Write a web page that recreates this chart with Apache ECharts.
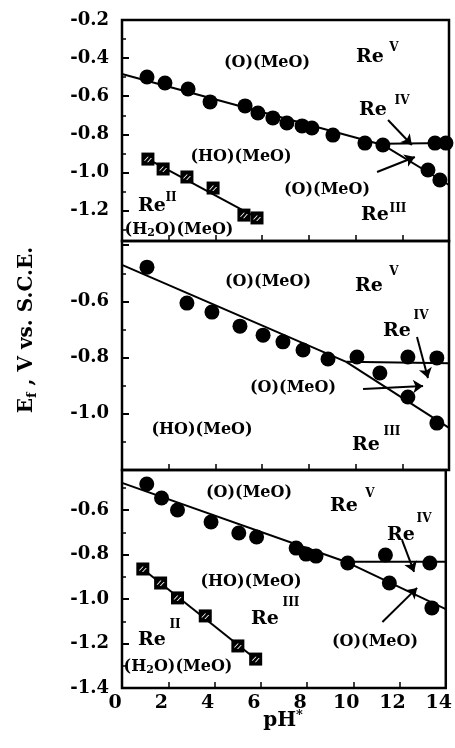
<!DOCTYPE html>
<html><head><meta charset="utf-8">
<script src="https://cdn.jsdelivr.net/npm/echarts@6/dist/echarts.min.js"></script>
<style>html,body{margin:0;padding:0;background:#fff}#c{width:455px;height:748px}</style>
</head><body><div id="c"></div>
<script>
// ---------- data (pH*, E_f / V vs. S.C.E.) ----------
const xTickLabels = [0, 2, 4, 6, 8, 10, 12, 14];
const yLabelsTop = [-0.2, -0.4, -0.6, -0.8, -1.0, -1.2];
const yLabelsMid = [-0.6, -0.8, -1.0];
const yLabelsBot = [-0.6, -0.8, -1.0, -1.2, -1.4];

// top panel
const topCircles = [[1.07,-0.499],[1.84,-0.531],[2.83,-0.562],[3.77,-0.630],[5.27,-0.651],[5.82,-0.688],[6.46,-0.714],[7.06,-0.741],[7.71,-0.756],[8.13,-0.767],[9.03,-0.804],[10.40,-0.846],[11.17,-0.856],[13.40,-0.846],[13.87,-0.846],[13.10,-0.987],[13.61,-1.040]];
const topSquares = [[1.11,-0.930],[1.76,-0.982],[2.78,-1.024],[3.90,-1.082],[5.22,-1.224],[5.78,-1.239]];
const topLineMain = [[0,-0.483],[11.17,-0.856]];
const topLineUpper = [[11.17,-0.850],[14,-0.846]];
const topLineLower = [[11.17,-0.856],[14,-1.066]];
const topLineSquares = [[1.11,-0.930],[5.78,-1.239]];
const topArrows = [[[11.39,-0.725],[12.41,-0.856]],[[10.92,-0.998],[12.54,-0.919]]];

// middle panel
const midCircles = [[1.07,-0.478],[2.78,-0.606],[3.85,-0.638],[5.05,-0.688],[6.04,-0.720],[6.89,-0.744],[7.75,-0.773],[8.82,-0.805],[10.06,-0.798],[11.04,-0.855],[12.24,-0.798],[13.48,-0.801],[12.24,-0.940],[13.48,-1.033]];
const midLineMain = [[0,-0.470],[9.6,-0.815]];
const midLineUpper = [[9.6,-0.815],[14,-0.820]];
const midLineLower = [[9.6,-0.815],[14,-1.050]];
const midArrows = [[[12.63,-0.727],[13.10,-0.873]],[[10.32,-0.912],[12.89,-0.901]]];

// bottom panel
const botCircles = [[1.07,-0.483],[1.71,-0.546],[2.40,-0.600],[3.85,-0.654],[5.05,-0.703],[5.82,-0.721],[7.53,-0.771],[7.96,-0.798],[8.39,-0.807],[9.76,-0.838],[11.39,-0.802],[13.31,-0.838],[11.56,-0.928],[13.40,-1.040]];
const botSquares = [[0.90,-0.865],[1.67,-0.928],[2.40,-0.995],[3.60,-1.076],[5.01,-1.211],[5.78,-1.270]];
const botLineMain = [[0,-0.478],[9.76,-0.836]];
const botLineUpper = [[9.76,-0.832],[14,-0.832]];
const botLineLower = [[9.76,-0.836],[14,-1.045]];
const botLineSquares = [[0.90,-0.865],[5.78,-1.270]];
const botArrows = [[[12.11,-0.735],[12.63,-0.878]],[[11.26,-1.103],[12.76,-0.950]]];

// ---------- styling ----------
const SERIF = '"DejaVu Serif", "Liberation Serif", serif';
// two white slashes drawn over a black square marker
const slashSymbol = 'path://M0 4L4 0L5.2 0L1.2 4Z M3.4 5.4L7.4 1.4L8.6 1.4L4.6 5.4Z';
const grids = [
  {left:122, width:327, top:20, height:221},
  {left:122, width:327, top:241, height:229},
  {left:122, width:327, top:470, height:218}
];
const yRanges = [[-1.36,-0.2,6],[-1.2,-0.385,4],[-1.4,-0.42,5]];
const yLabelSets = [yLabelsTop, yLabelsMid, yLabelsBot];

function lineSeries(i, data){
  return {type:'line', xAxisIndex:i, yAxisIndex:i, data:data, symbol:'none', silent:true, z:2,
    lineStyle:{color:'#000', width:2, opacity:1}};
}
function circleSeries(i, data){
  return {type:'scatter', xAxisIndex:i, yAxisIndex:i, data:data, symbol:'circle', symbolSize:15, silent:true, z:4,
    itemStyle:{color:'#000', opacity:1}};
}
function squareSeries(i, data){
  return [
    {type:'scatter', xAxisIndex:i, yAxisIndex:i, data:data, symbol:'rect', symbolSize:13, silent:true, z:5,
      itemStyle:{color:'#000', opacity:1}},
    {type:'scatter', xAxisIndex:i, yAxisIndex:i, data:data, symbol:slashSymbol, symbolSize:[8,5.5], symbolOffset:[0,0.3],
      silent:true, z:6, itemStyle:{color:'#fff', opacity:1}}
  ];
}
function arrowSeries(i, arrows){
  return {type:'scatter', xAxisIndex:i, yAxisIndex:i, data:[], silent:true, z:7,
    markLine:{silent:true, symbol:['none','arrow'], symbolSize:10, animation:false,
      label:{show:false}, emphasis:{disabled:true},
      lineStyle:{color:'#000', width:2, type:'solid', opacity:1},
      itemStyle:{color:'#000'},
      data: arrows.map(a => [{coord:a[0]},{coord:a[1]}])}};
}

const series = [
  lineSeries(0, topLineMain), lineSeries(0, topLineUpper), lineSeries(0, topLineLower), lineSeries(0, topLineSquares),
  circleSeries(0, topCircles), ...squareSeries(0, topSquares), arrowSeries(0, topArrows),
  lineSeries(1, midLineMain), lineSeries(1, midLineUpper), lineSeries(1, midLineLower),
  circleSeries(1, midCircles), arrowSeries(1, midArrows),
  lineSeries(2, botLineMain), lineSeries(2, botLineUpper), lineSeries(2, botLineLower), lineSeries(2, botLineSquares),
  circleSeries(2, botCircles), ...squareSeries(2, botSquares), arrowSeries(2, botArrows)
];

// ---------- annotation texts ----------
const annFont = 'bold 16px ' + SERIF;
const reFont = 'bold 19px ' + SERIF;
const supFont = 'bold 12px ' + SERIF;
const texts = [];
function t(x, y, text, font){
  texts.push({type:'text', x:x, y:y, z:100, silent:true,
    style:{text:text, font:font, fill:'#000', align:'center', verticalAlign:'middle'}});
}
function h2o(x, y){
  texts.push({type:'text', x:x, y:y, z:100, silent:true,
    style:{text:'{a|(H}{s|2}{a|O)(MeO)}', fill:'#000', align:'center', verticalAlign:'middle',
      rich:{a:{font:annFont, fill:'#000', lineHeight:18, verticalAlign:'middle'},
            s:{font:'bold 11px ' + SERIF, fill:'#000', lineHeight:18, verticalAlign:'bottom'}}}});
}
function re(x, y, sup, sx, sy){ t(x, y, 'Re', reFont); t(sx, sy, sup, supFont); }

// top
t(267, 63, '(O)(MeO)', annFont);
re(370, 57, 'V', 394, 48);
re(373, 110, 'IV', 402, 101);
t(241, 157, '(HO)(MeO)', annFont);
t(327, 190, '(O)(MeO)', annFont);
re(375, 215, 'III', 398, 209);
re(152, 206, 'II', 171, 198);
h2o(179, 230);
// middle
t(268, 282, '(O)(MeO)', annFont);
re(369, 286, 'V', 394, 272);
re(397, 331, 'IV', 421, 316);
t(293, 388, '(O)(MeO)', annFont);
t(202, 430, '(HO)(MeO)', annFont);
re(366, 445, 'III', 392, 432);
// bottom
t(249, 493, '(O)(MeO)', annFont);
re(344, 506, 'V', 370, 494);
re(401, 535, 'IV', 424, 519);
t(251, 582, '(HO)(MeO)', annFont);
re(265, 619, 'III', 291, 603);
re(152, 640, 'II', 175, 625);
h2o(178, 667);
t(375, 642, '(O)(MeO)', annFont);

// axis titles
texts.push({type:'text', x:27, y:330, rotation:Math.PI/2, z:100, silent:true,
  style:{text:'{a|E}{s|f}{a| , V vs. S.C.E.}', fill:'#000', align:'center', verticalAlign:'middle',
    rich:{a:{font:'bold 20px ' + SERIF, fill:'#000', lineHeight:24, verticalAlign:'middle'},
          s:{font:'bold 13px ' + SERIF, fill:'#000', lineHeight:24, verticalAlign:'bottom'}}}});
texts.push({type:'text', x:283, y:721, z:100, silent:true,
  style:{text:'{a|pH}{s|*}', fill:'#000', align:'center', verticalAlign:'middle',
    rich:{a:{font:'bold 20px ' + SERIF, fill:'#000', lineHeight:24, verticalAlign:'middle'},
          s:{font:'bold 13px ' + SERIF, fill:'#000', lineHeight:24, verticalAlign:'top'}}}});

// ---------- option ----------
const option = {
  animation:false,
  backgroundColor:'#fff',
  grid: grids.map(g => Object.assign({show:true, borderColor:'#000', borderWidth:2.5, backgroundColor:'transparent'}, g)),
  xAxis: [0,1,2].map(i => ({
    type:'value', gridIndex:i, min:0, max:14, interval:2,
    axisLine:{show:false},
    axisTick:{show:true, inside:true, length:6, lineStyle:{color:'#000', width:1.5}},
    splitLine:{show:false},
    axisLabel:{show: i===2, margin:6, color:'#000', fontFamily:SERIF, fontWeight:'bold', fontSize:19,
      padding:[0,14,0,0],
      formatter: v => xTickLabels.indexOf(v) >= 0 ? String(v) : ''}
  })),
  yAxis: [0,1,2].map(i => ({
    type:'value', gridIndex:i, min:yRanges[i][0], max:yRanges[i][1], splitNumber:yRanges[i][2],
    axisLine:{show:false},
    axisTick:{show:true, inside:true, length:7, lineStyle:{color:'#000', width:2}},
    minorTick:{show:true, splitNumber:2, length:4, lineStyle:{color:'#000', width:1.5}},
    splitLine:{show:false}, minorSplitLine:{show:false},
    axisLabel:{show:true, margin:13, color:'#000', fontFamily:SERIF, fontWeight:'bold', fontSize:18,
      showMinLabel:true, showMaxLabel:true,
      formatter: v => yLabelSets[i].some(l => Math.abs(l - v) < 1e-6) ? v.toFixed(1) : ''}
  })),
  series: series,
  graphic: texts
};
const chart = echarts.init(document.getElementById('c'), null, {renderer:'canvas'});
chart.setOption(option);
</script></body></html>
